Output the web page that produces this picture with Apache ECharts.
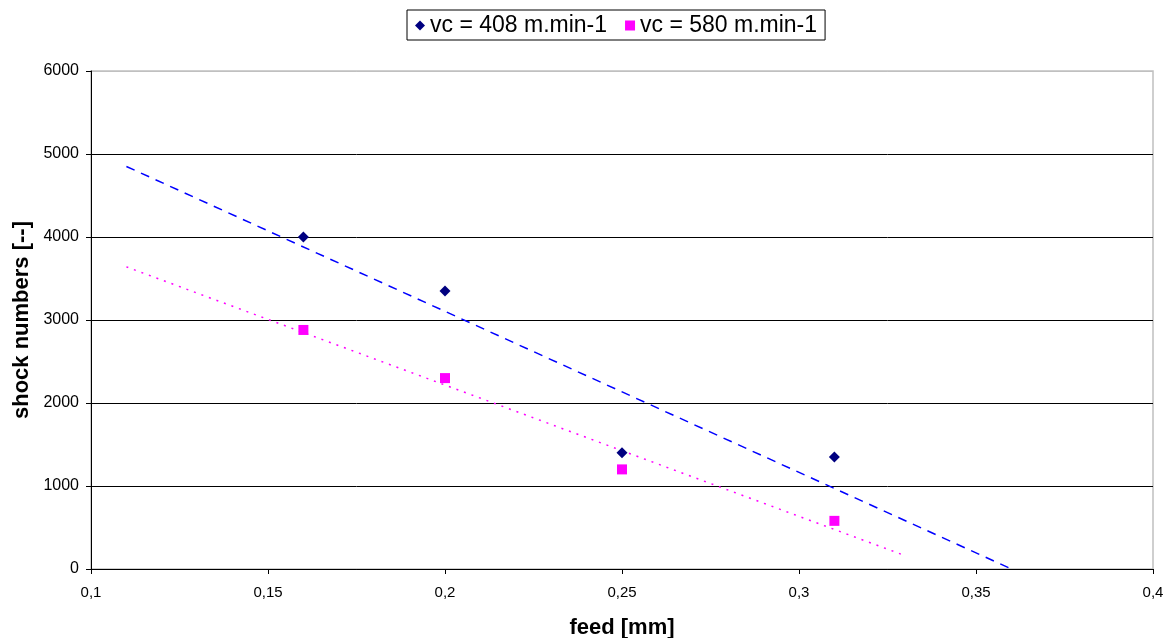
<!DOCTYPE html>
<html><head><meta charset="utf-8">
<script src="https://cdn.jsdelivr.net/npm/echarts@6/dist/echarts.min.js"></script>
<style>html,body{margin:0;padding:0;background:#fff}#c{width:1171px;height:638px}</style>
</head><body><div id="c"></div>
<script>
const seriesNames = ['vc = 408 m.min-1', 'vc = 580 m.min-1'];
const feed = [0.16, 0.2, 0.25, 0.31];
const shock408 = [4000, 3350, 1400, 1350];
const shock580 = [2880, 2300, 1200, 580];
// trendline endpoints
const trend408 = [[0.11, 4850], [0.36, 0]];
const trend580 = [[0.11, 3640], [0.33, 160]];

const font = 'Liberation Sans, Arial, sans-serif';
const chart = echarts.init(document.getElementById('c'), null, {renderer: 'canvas'});
chart.setOption({
  animation: false,
  backgroundColor: '#fff',
  grid: {left: 91, top: 71, right: 18, bottom: 69, show: true, borderColor: '#c0c0c0', borderWidth: 1.5,
         containLabel: false, outerBoundsMode: 'none'},
  legend: {
    data: seriesNames,
    top: 10, left: 407,
    padding: [4, 8, 3, 8],
    borderColor: '#000', borderWidth: 1,
    itemGap: 18, itemWidth: 10, itemHeight: 10,
    textStyle: {fontFamily: font, fontSize: 23, color: '#000'}
  },
  xAxis: {
    type: 'value', min: 0.1, max: 0.4, interval: 0.05,
    name: 'feed [mm]', nameLocation: 'middle', nameGap: 48,
    nameTextStyle: {fontFamily: font, fontSize: 22, fontWeight: 'bold', color: '#000'},
    axisLine: {show: true, lineStyle: {color: '#000', width: 1}},
    axisTick: {show: true, length: 5, lineStyle: {color: '#000'}},
    axisLabel: {fontFamily: font, fontSize: 15, color: '#000', margin: 16,
      formatter: v => String(Math.round(v * 100) / 100).replace('.', ',')},
    splitLine: {show: false}
  },
  yAxis: {
    type: 'value', min: 0, max: 6000, interval: 1000,
    name: 'shock numbers [--]', nameLocation: 'middle', nameGap: 58, nameRotate: 90,
    nameTextStyle: {fontFamily: font, fontSize: 22, fontWeight: 'bold', color: '#000'},
    axisLine: {show: true, lineStyle: {color: '#000', width: 1}},
    axisTick: {show: true, length: 5, lineStyle: {color: '#000'}},
    axisLabel: {fontFamily: font, fontSize: 16, color: '#000', margin: 12,
      formatter: v => String(v)},
    splitLine: {show: true, lineStyle: {color: ['#000', '#000', '#000', '#000', '#000', '#000', '#c0c0c0'], width: 1}}
  },
  series: [
    {name: seriesNames[0], type: 'scatter', symbol: 'diamond', symbolSize: [11, 11],
     itemStyle: {color: '#000080', opacity: 1}, data: feed.map((x, i) => [x, shock408[i]]), z: 5},
    {name: seriesNames[1], type: 'scatter', symbol: 'rect', symbolSize: 10,
     itemStyle: {color: '#ff00ff', opacity: 1}, data: feed.map((x, i) => [x, shock580[i]]), z: 5},
    {name: 'trend408', type: 'line', data: trend408, symbol: 'none', silent: true,
     lineStyle: {color: '#0000ff', width: 1.5, type: [9, 7]}, z: 3},
    {name: 'trend580', type: 'line', data: trend580, symbol: 'none', silent: true,
     lineStyle: {color: '#ff00ff', width: 1.5, type: [2, 6]}, z: 3}
  ]
});
</script></body></html>
